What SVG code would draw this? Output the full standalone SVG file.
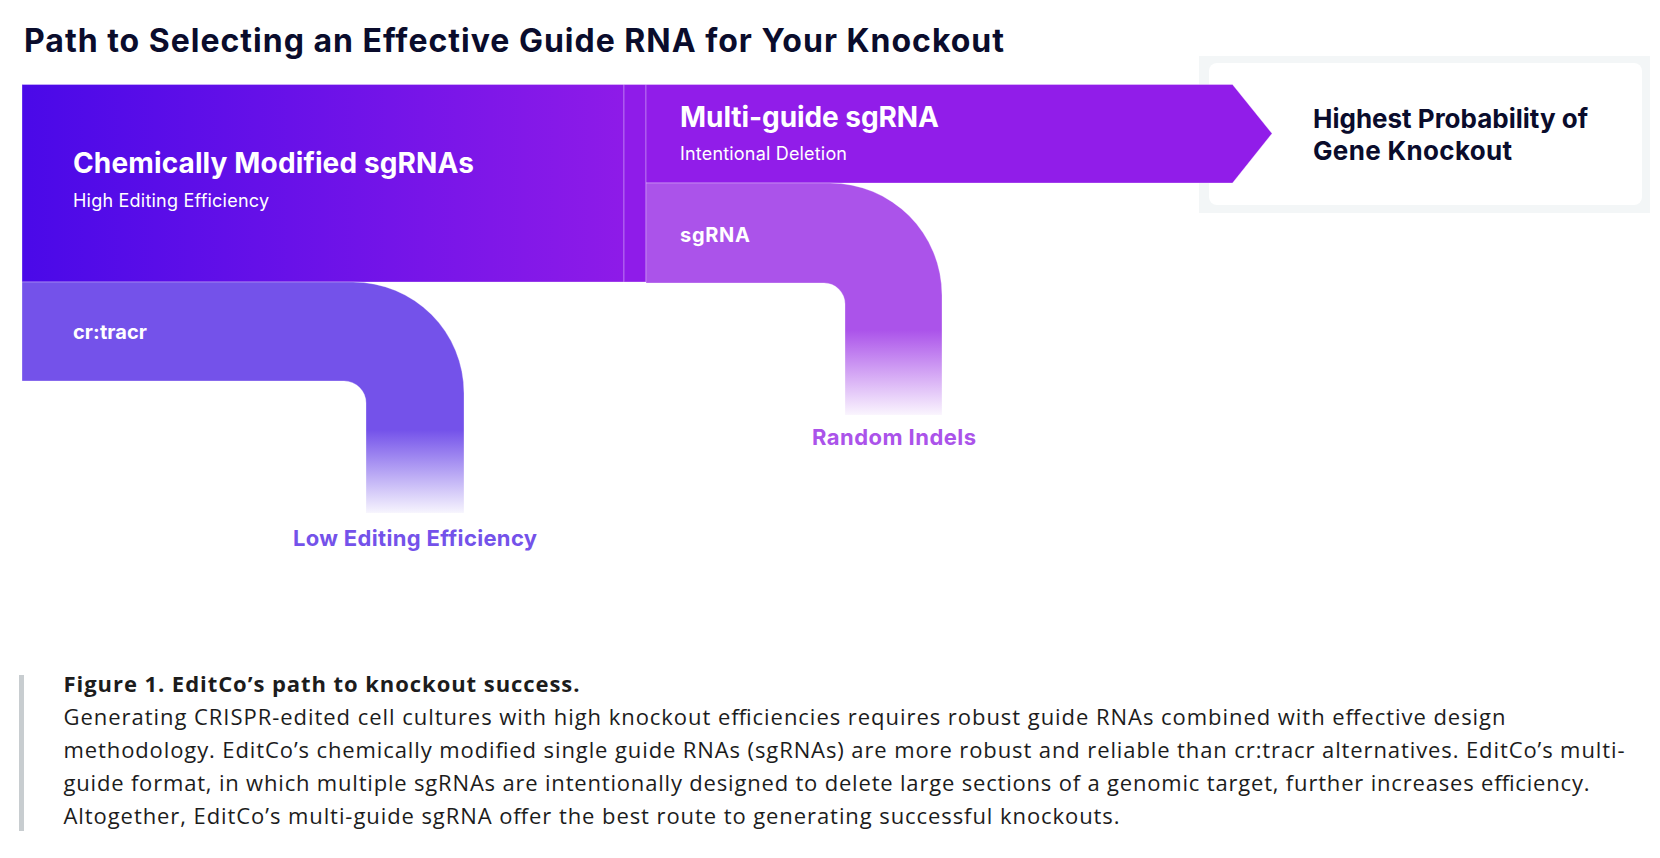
<svg xmlns="http://www.w3.org/2000/svg" width="1660" height="858" viewBox="0 0 1660 858">
  <style>
    .ui { font-family: Inter, "Liberation Sans", "DejaVu Sans", sans-serif; }
    .head { font-weight: 700; fill: #ffffff; font-size: 28px; }
    .sub { font-weight: 400; fill: #ffffff; font-size: 18px; }
    .tag { font-weight: 700; fill: #ffffff; font-size: 20px; }
    .out { font-weight: 700; font-size: 22px; }
    .goal { font-weight: 700; font-size: 26px; fill: #0a0c2c; }
    .dark { fill: #0a0c2c; }
    .cap { font-family: "Open Sans", "Noto Sans", "DejaVu Sans", sans-serif; font-size: 22px; fill: #1c1c1c; }
    .edge { stroke: #ffffff; stroke-opacity: 0.3; stroke-width: 1; }
  </style>
  <defs>
    <linearGradient id="gChem" x1="22" y1="0" x2="624" y2="0" gradientUnits="userSpaceOnUse">
      <stop offset="0" stop-color="#4a09e8"/>
      <stop offset="1" stop-color="#8e1be8"/>
    </linearGradient>
    <linearGradient id="gCr" x1="0" y1="430" x2="0" y2="513" gradientUnits="userSpaceOnUse">
      <stop offset="0" stop-color="#7452ea" stop-opacity="1"/>
      <stop offset="1" stop-color="#7452ea" stop-opacity="0.06"/>
    </linearGradient>
    <linearGradient id="gSg" x1="0" y1="330" x2="0" y2="415" gradientUnits="userSpaceOnUse">
      <stop offset="0" stop-color="#ab53ea" stop-opacity="1"/>
      <stop offset="1" stop-color="#ab53ea" stop-opacity="0.06"/>
    </linearGradient>
  </defs>

  <rect x="0" y="0" width="1660" height="858" fill="#ffffff"/>

  <g id="title">
    <text class="ui dark" x="24" y="52" font-size="32" font-weight="700" textLength="980">Path to Selecting an Effective Guide RNA for Your Knockout</text>
  </g>

  <g id="node-outcome">
    <rect x="1199" y="56" width="451" height="157" fill="#f3f6f7"/>
    <rect x="1209" y="63" width="433" height="142" rx="8" fill="#ffffff"/>
    <text class="ui goal" x="1313" y="128" textLength="275">Highest Probability of</text>
    <text class="ui goal" x="1313" y="160" textLength="199">Gene Knockout</text>
  </g>

  <g id="node-chemically-modified">
    <rect class="edge" x="22" y="84.5" width="602" height="197.5" fill="url(#gChem)"/>
    <rect class="edge" x="624" y="84.5" width="22" height="197.5" fill="#8f1ce9"/>
    <text class="ui head" x="73" y="173" textLength="401">Chemically Modified sgRNAs</text>
    <text class="ui sub" x="73" y="207" textLength="196">High Editing Efficiency</text>
  </g>

  <g id="node-multi-guide">
    <path class="edge" d="M646,84.5 H1232.5 L1272,133.5 L1232.5,183 H646 Z" fill="#911de9"/>
    <text class="ui head" x="680" y="127" textLength="259">Multi-guide sgRNA</text>
    <text class="ui sub" x="680" y="160" textLength="167">Intentional Deletion</text>
  </g>

  <g id="node-sgrna">
    <path class="edge" d="M646,183 H830 A112,112 0 0 1 942,295 V415 H845 V304 A21,21 0 0 0 824,283 H646 Z" fill="url(#gSg)"/>
    <text class="ui tag" x="680" y="242" textLength="70">sgRNA</text>
  </g>

  <g id="node-crtracr">
    <path class="edge" d="M22,282 H353 A111,111 0 0 1 464,393 V513 H366 V403 A22,22 0 0 0 344,381 H22 Z" fill="url(#gCr)"/>
    <text class="ui tag" x="73" y="339" textLength="74">cr:tracr</text>
  </g>

  <g id="node-low-efficiency">
    <text class="ui out" x="293" y="546" fill="#7452ea" textLength="244">Low Editing Efficiency</text>
  </g>

  <g id="node-random-indels">
    <text class="ui out" x="812" y="445" fill="#ab53ea" textLength="164">Random Indels</text>
  </g>

  <g id="connectors"></g>

  <g id="caption">
    <rect x="19" y="675" width="5" height="156" fill="#c8cdd0"/>
    <text class="cap" x="63.5" y="692" font-weight="700" textLength="516">Figure 1. EditCo’s path to knockout success.</text>
    <text class="cap" x="63.5" y="725" textLength="1442">Generating CRISPR-edited cell cultures with high knockout efficiencies requires robust guide RNAs combined with effective design</text>
    <text class="cap" x="63.5" y="758" textLength="1561">methodology. EditCo’s chemically modified single guide RNAs (sgRNAs) are more robust and reliable than cr:tracr alternatives. EditCo’s multi-</text>
    <text class="cap" x="63.5" y="791" textLength="1526">guide format, in which multiple sgRNAs are intentionally designed to delete large sections of a genomic target, further increases efficiency.</text>
    <text class="cap" x="63.5" y="824" textLength="1056">Altogether, EditCo’s multi-guide sgRNA offer the best route to generating successful knockouts.</text>
  </g>
</svg>
